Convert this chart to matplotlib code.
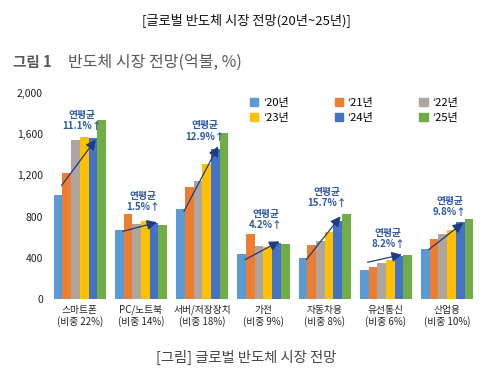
import matplotlib.pyplot as plt
from matplotlib.patches import Patch

plt.rcParams['font.family'] = ['Noto Sans CJK KR', 'DejaVu Sans']

# data (억불)
categories = ['스마트폰\n(비중 22%)', 'PC/노트북\n(비중 14%)', '서버/저장장치\n(비중 18%)',
              '가전\n(비중 9%)', '자동차용\n(비중 8%)', '유선통신\n(비중 6%)', '산업용\n(비중 10%)']
years = ['‘20년', '‘21년', '‘22년', '‘23년', '‘24년', '‘25년']
y20 = [1010, 670, 870, 440, 395, 280, 485]
y21 = [1220, 820, 1085, 630, 520, 315, 580]
y22 = [1540, 730, 1145, 515, 560, 350, 630]
y23 = [1575, 760, 1305, 500, 645, 380, 665]
y24 = [1560, 740, 1460, 540, 760, 415, 745]
y25 = [1740, 718, 1612, 537, 821, 430, 777]
cagr = ['11.1%', '1.5%', '12.9%', '4.2%', '15.7%', '8.2%', '9.8%']
# arrow start / end values and label height for each group
arrow_from = [1100, 656, 850, 382, 382, 356, 479]
arrow_to = [1547, 744, 1482, 559, 802, 430, 738]
label_y = [1731, 945, 1629, 775, 988, 590, 901]

colors = ['#5B9BD5', '#ED7D31', '#ADA59E', '#FFC000', '#4472C4', '#70AD47']
navy = '#1F3C7E'
txt_blue = '#2E59A6'

fig = plt.figure(figsize=(4.93, 3.7), dpi=100)
ax = fig.add_axes([0.097, 0.192, 0.877, 0.557])

series = [y20, y21, y22, y23, y24, y25]
w = 0.142
for j, vals in enumerate(series):
    xs = [i + (j - 2.5) * w for i in range(len(categories))]
    ax.bar(xs, vals, width=w, color=colors[j], linewidth=0)

for i in range(len(categories)):
    ax.annotate('', xy=(i + 0.26, arrow_to[i]), xytext=(i - 0.3, arrow_from[i]),
                arrowprops=dict(arrowstyle='-|>', color=navy, lw=0.9,
                                mutation_scale=15, shrinkA=0, shrinkB=0))
    ax.text(i + 0.04, label_y[i], '연평균\n' + cagr[i] + '↑', ha='center', va='center',
            color=txt_blue, fontsize=7, fontweight='bold', linespacing=1.15)

ax.set_xlim(-0.523, 6.54)
ax.set_ylim(0, 2000)
ax.set_yticks([0, 400, 800, 1200, 1600, 2000])
ax.set_yticklabels(['0', '400', '800', '1,200', '1,600', '2,000'])
ax.set_xticks(range(len(categories)))
ax.set_xticklabels(categories, fontsize=7, linespacing=1.15)
ax.tick_params(length=0, labelsize=7.5, colors='#222222')
ax.tick_params(axis='x', pad=4, labelsize=7)
for s in ax.spines.values():
    s.set_visible(False)

handles = [Patch(color=c) for c in colors]
order = [0, 3, 1, 4, 2, 5]
fig.legend([handles[k] for k in order], [years[k] for k in order], ncol=3,
           loc='upper left', bbox_to_anchor=(0.487, 0.763), frameon=False,
           fontsize=8, handlelength=0.75, handleheight=0.75, handletextpad=0.4,
           columnspacing=4.15, labelspacing=0.5)

fig.text(0.5, 0.945, '[글로벌 반도체 시장 전망(20년~25년)]', ha='center', va='center',
         fontsize=9.5, color='#111111')
fig.text(0.027, 0.832, '그림 1', ha='left', va='center', fontsize=10.5,
         fontweight='bold', color='#595959')
fig.text(0.138, 0.832, '반도체 시장 전망(억불, %)', ha='left', va='center', fontsize=11.5,
         color='#595959')
fig.text(0.5, 0.035, '[그림] 글로벌 반도체 시장 전망', ha='center', va='center',
         fontsize=10.3, color='#444444')

fig.savefig('out.png', dpi=100)
